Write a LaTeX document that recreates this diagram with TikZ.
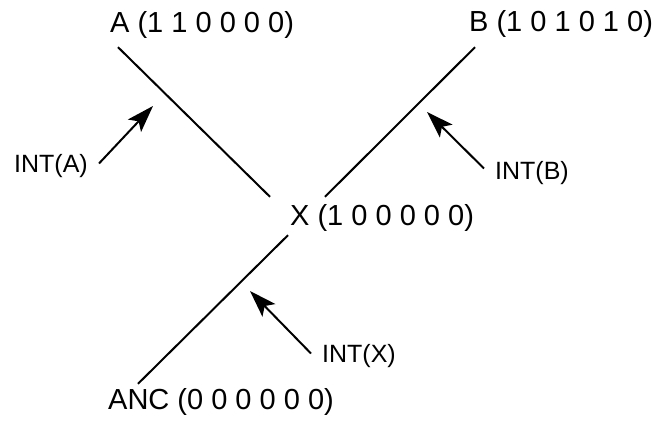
\documentclass[tikz,border=0pt]{standalone}
\usepackage{fontspec}
\setmainfont{Liberation Sans}
\usetikzlibrary{arrows.meta}

\begin{document}
\begin{tikzpicture}[x=1pt,y=-1pt]
    \tikzstyle{taxon}=[anchor=base west,inner sep=0pt,text height=20pt,
        text depth=6pt,font=\fontsize{29}{31}\selectfont]
    \tikzstyle{interior}=[anchor=base west,inner sep=0pt,text height=18pt,
        text depth=5pt,font=\fontsize{25}{27}\selectfont]
    \tikzstyle{branch}=[line width=2pt]
    \tikzstyle{pointer}=[line width=2pt,-{Stealth[length=27pt,width=18pt,inset=6pt]}]
    \useasboundingbox (0,0) rectangle (654,427);
    % Taxa
    \node[taxon] (A) at (110,33) {A (1 1 0 0 0 0)};
    \node[taxon] (B) at (469,32) {B (1 0 1 0 1 0)};
    \node[taxon] (X) at (290,226) {X (1 0 0 0 0 0)};
    \node[taxon] (anc) at (108,410) {ANC (0 0 0 0 0 0)};
    % Branches
    \draw[branch] ([xshift=8pt,yshift=-8pt]A.south west) -- ([xshift=-20pt,yshift=9pt]X.north west);
    \draw[branch] ([xshift=6pt,yshift=-9pt]B.south west) -- ([xshift=35pt,yshift=9pt]X.north west);
    \draw[branch] ([xshift=-2pt,yshift=-3pt]X.south west) -- ([xshift=30pt,yshift=6pt]anc.north west);
    % Interior labels
    \node[interior] (intA) at (14,173) {INT(A)};
    \node[interior] (intB) at (495,180) {INT(B)};
    \node[interior] (intX) at (322,363) {INT(X)};
    \coordinate (headA) at (153,106);
    \coordinate (headB) at (427,112);
    \coordinate (headX) at (250,291);
    \draw[pointer] ([xshift=11pt,yshift=3pt]intA.east) -- (headA);
    \draw[pointer] ([xshift=-11pt,yshift=5pt]intB.west) -- (headB);
    \draw[pointer] ([xshift=-11pt,yshift=3pt]intX.west) -- (headX);
\end{tikzpicture}
\end{document}
